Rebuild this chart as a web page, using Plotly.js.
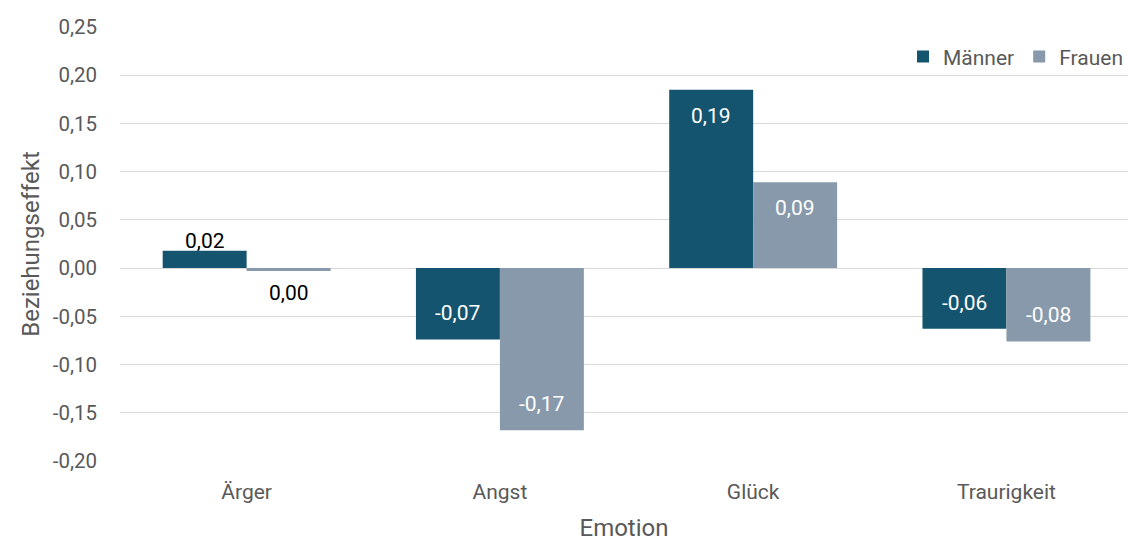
<!DOCTYPE html>
<html>
<head>
<meta charset="utf-8">
<script src="https://cdn.plot.ly/plotly-3.0.1.min.js"></script>
<style>html,body{margin:0;padding:0;background:#fff}#chart{width:1128px;height:542px}</style>
</head>
<body>
<div id="chart"></div>
<script>
const categories = ["Ärger", "Angst", "Glück", "Traurigkeit"];
const maenner = [0.018, -0.074, 0.185, -0.063];
const frauen = [-0.003, -0.168, 0.089, -0.076];
const maennerLabels = ["0,02", "-0,07", "0,19", "-0,06"];
const frauenLabels = ["0,00", "-0,17", "0,09", "-0,08"];
const yTickVals = [-0.20, -0.15, -0.10, -0.05, 0.00, 0.05, 0.10, 0.15, 0.20, 0.25];
const yTickText = ["-0,20", "-0,15", "-0,10", "-0,05", "0,00", "0,05", "0,10", "0,15", "0,20", "0,25"];

const FONT = "Roboto, 'Liberation Sans', sans-serif";
const GREY = "#595959";
const C_M = "#14546E";
const C_F = "#8799AA";

const traces = [
  { type: "bar", name: "Männer", x: categories, y: maenner, marker: {color: C_M}, hoverinfo: "skip" },
  { type: "bar", name: "Frauen", x: categories, y: frauen, marker: {color: C_F}, hoverinfo: "skip" }
];

// data labels: inside end (white) except for the small Ärger bars, which are labelled outside (black)
const annotations = [];
function addLabels(values, labels, side) {
  values.forEach((v, i) => {
    const outside = i === 0;
    let shift;
    if (outside) shift = v >= 0 ? 10 : -22;
    else shift = v >= 0 ? -26 : 26;
    annotations.push({
      xref: "x", yref: "y", x: categories[i], y: v,
      xshift: side * 42, yshift: shift,
      text: labels[i], showarrow: false,
      xanchor: "center", yanchor: "middle",
      font: {family: FONT, size: 21, color: outside ? "#000000" : "#ffffff"}
    });
  });
}
addLabels(maenner, maennerLabels, -1);
addLabels(frauen, frauenLabels, 1);

const layout = {
  width: 1128, height: 542,
  margin: {l: 120, r: 0, t: 27, b: 81},
  paper_bgcolor: "#ffffff", plot_bgcolor: "#ffffff",
  font: {family: FONT, color: GREY, size: 20},
  barmode: "group", bargap: 0.337, bargroupgap: 0,
  showlegend: true,
  legend: {orientation: "h", x: 1.0, xanchor: "right", y: 0.931, yanchor: "middle",
           font: {family: FONT, size: 21, color: GREY}, itemwidth: 30, traceorder: "normal",
           bgcolor: "rgba(255,255,255,0)"},
  annotations: annotations,
  xaxis: {
    range: [-0.5, 3.48], showgrid: false, zeroline: false, showline: false,
    ticks: "", tickfont: {family: FONT, size: 21, color: GREY}, ticklabelstandoff: 16,
    title: {text: "Emotion", font: {family: FONT, size: 24, color: GREY}, standoff: 18},
    automargin: false, fixedrange: true
  },
  yaxis: {
    range: [-0.2, 0.25], tickvals: yTickVals, ticktext: yTickText,
    showgrid: true, gridcolor: "#d9d9d9", gridwidth: 1,
    zeroline: true, zerolinecolor: "#d9d9d9", zerolinewidth: 1, showline: false,
    ticks: "", tickfont: {family: FONT, size: 20.5, color: GREY}, ticklabelstandoff: 22,
    title: {text: "Beziehungseffekt", font: {family: FONT, size: 24, color: GREY}, standoff: 6},
    automargin: false, fixedrange: true
  }
};

Plotly.newPlot("chart", traces, layout, {displayModeBar: false, staticPlot: true});
</script>
</body>
</html>
